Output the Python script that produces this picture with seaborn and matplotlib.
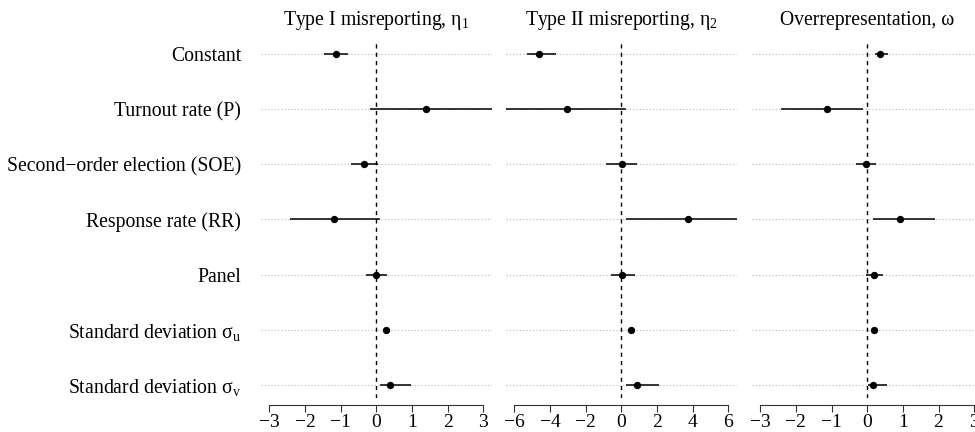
import numpy as np
import pandas as pd
import matplotlib
matplotlib.use("Agg")
import matplotlib.pyplot as plt
import seaborn as sns

# --- data ---
terms = ["Constant", "Turnout rate (P)", "Second\u2212order election (SOE)",
         "Response rate (RR)", "Panel",
         "Standard deviation \u03c3$_\\mathrm{u}$",
         "Standard deviation \u03c3$_\\mathrm{v}$"]

panel_titles = ["Type I misreporting, \u03b7$_1$",
                "Type II misreporting, \u03b7$_2$",
                "Overrepresentation, \u03c9"]

eta1_est = [-1.14, 1.38, -0.34, -1.18, -0.01, 0.26, 0.38]
eta1_lo = [-1.46, -0.17, -0.71, -2.41, -0.30, 0.20, 0.11]
eta1_hi = [-0.79, 3.60, 0.05, 0.10, 0.30, 0.32, 0.96]

eta2_est = [-4.60, -3.06, 0.02, 3.76, 0.05, 0.56, 0.86]
eta2_lo = [-5.29, -6.80, -0.84, 0.28, -0.60, 0.50, 0.28]
eta2_hi = [-3.69, 0.28, 0.86, 6.80, 0.74, 0.62, 2.08]

omega_est = [0.36, -1.12, -0.03, 0.93, 0.20, 0.20, 0.16]
omega_lo = [0.22, -2.43, -0.32, 0.15, -0.02, 0.15, 0.03]
omega_hi = [0.57, -0.13, 0.24, 1.89, 0.43, 0.25, 0.55]

ticks_small = [-3, -2, -1, 0, 1, 2, 3]
ticks_wide = [-6, -4, -2, 0, 2, 4, 6]

# --- long table ---
frames = []
for title, est, lo, hi in zip(panel_titles,
                              [eta1_est, eta2_est, omega_est],
                              [eta1_lo, eta2_lo, omega_lo],
                              [eta1_hi, eta2_hi, omega_hi]):
    frames.append(pd.DataFrame({"panel": title, "term": terms,
                                "est": est, "lo": lo, "hi": hi,
                                "ypos": np.arange(len(terms))[::-1] + 1}))
df = pd.concat(frames, ignore_index=True)

sns.set_theme(style="white")
plt.rcParams["font.family"] = ["Liberation Serif", "DejaVu Serif"]
plt.rcParams["mathtext.fontset"] = "custom"
plt.rcParams["mathtext.rm"] = "Liberation Serif"
plt.rcParams["mathtext.it"] = "Liberation Serif:italic"
plt.rcParams["text.color"] = "black"
plt.rcParams["xtick.color"] = "black"
plt.rcParams["ytick.color"] = "black"

fs = 14.2
fig = plt.figure(figsize=(9.75, 4.32), dpi=100)
lefts = [260.7, 505.8, 751.6]
pw = 231.2
bottom, top = 432 - 398.1, 432 - 40.7

tick_sets = [ticks_small, ticks_wide, ticks_small]
for i, title in enumerate(panel_titles):
    ax = fig.add_axes([lefts[i] / 975, bottom / 432, pw / 975, (top - bottom) / 432])
    sub = df[df["panel"] == title]
    ticks = tick_sets[i]
    span = ticks[-1] - ticks[0]
    ax.set_xlim(ticks[0] - 0.04 * span, ticks[-1] + 0.04 * span)
    n = len(terms)
    ax.set_ylim(1 - 0.04 * (n - 1), n + 0.04 * (n - 1))

    # dotted guides, zero line, intervals, estimates
    for y in sub["ypos"]:
        ax.axhline(y, color="#b8b8b8", lw=0.8, ls=(0, (1, 2)), zorder=1)
    ax.axvline(0, color="black", lw=1.0, ls=(0, (3, 3)), zorder=2)
    ax.hlines(sub["ypos"], sub["lo"], sub["hi"], color="black", lw=1.1, zorder=3)
    sns.scatterplot(data=sub, x="est", y="ypos", ax=ax, color="black",
                    s=28, edgecolor="black", linewidth=0, zorder=4, legend=False)

    ax.set_title(title, fontsize=fs, pad=11, color="black")
    ax.set_xlabel("")
    ax.set_ylabel("")
    ax.set_xticks(ticks)
    ax.set_xticklabels([f"{t}".replace("-", "\u2212") for t in ticks])
    ax.tick_params(axis="x", bottom=True, direction="out", length=5, width=0.8,
                   color="#333333", labelcolor="black", labelsize=14, pad=1.5)
    for side in ["top", "right", "left"]:
        ax.spines[side].set_visible(False)
    ax.spines["bottom"].set_bounds(ticks[0], ticks[-1])
    ax.spines["bottom"].set_position(("outward", 5))
    ax.spines["bottom"].set_color("#333333")
    ax.spines["bottom"].set_linewidth(0.8)
    if i == 0:
        ax.set_yticks(sub["ypos"])
        ax.set_yticklabels(sub["term"])
        ax.tick_params(axis="y", left=False, length=0, pad=14,
                       labelsize=fs, labelcolor="black")
    else:
        ax.set_yticks([])

fig.savefig("out.png", dpi=100)
